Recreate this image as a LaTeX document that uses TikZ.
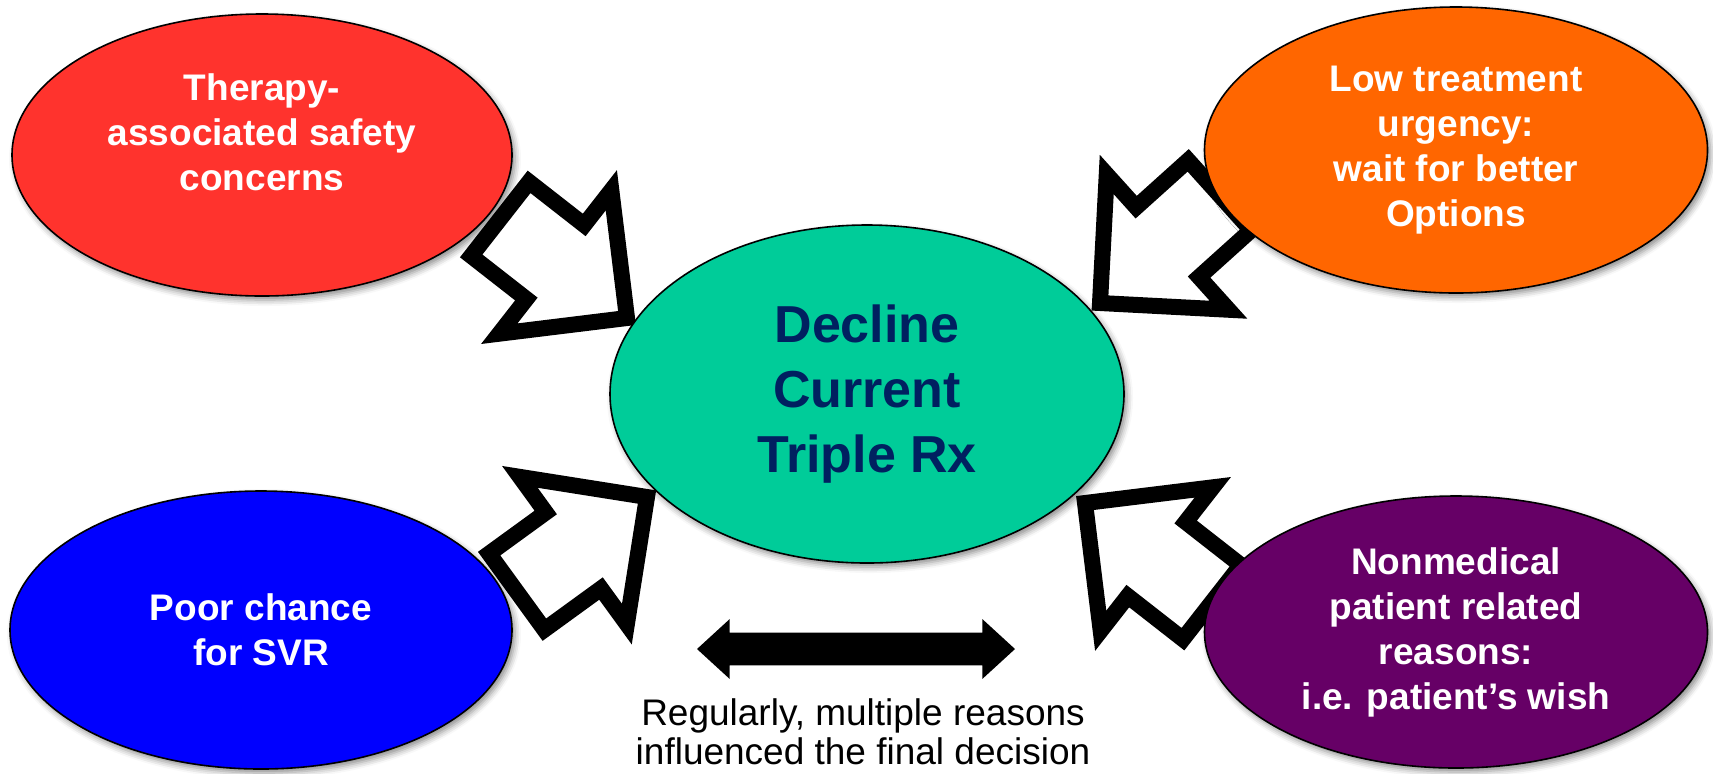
\documentclass[tikz,border=0pt]{standalone}
\usepackage{fontspec}
\setmainfont{Liberation Sans}
\usepackage{tikz}
\usetikzlibrary{shapes.geometric, shapes.arrows, shadows.blur}

\definecolor{safetyred}{RGB}{255,51,45}
\definecolor{urgencyorange}{RGB}{255,102,0}
\definecolor{declineteal}{RGB}{0,204,153}
\definecolor{svrblue}{RGB}{0,0,255}
\definecolor{wishpurple}{RGB}{102,0,102}
\definecolor{declinenavy}{RGB}{0,32,96}

\begin{document}
\begin{tikzpicture}[
    x=0.5pt, y=-0.5pt,
    bubble/.style={ellipse, draw=black, line width=0.8pt, inner sep=0pt,
                   align=center, text=white,
                   font=\bfseries\fontsize{18.5}{22.5}\selectfont,
                   blur shadow={shadow xshift=1.5pt, shadow yshift=-2pt,
                                shadow blur radius=3pt, shadow opacity=45}},
    pusharrow/.style={single arrow, draw=black, fill=white, line width=8pt,
                      inner xsep=0pt, inner ysep=19.5pt, outer sep=0pt,
                      single arrow head extend=22pt,
                      single arrow tip angle=90,
                      minimum height=80.5pt, anchor=tip},
    botharrow/.style={double arrow, fill=black, draw=none,
                      inner xsep=0pt, inner ysep=8pt, outer sep=0pt,
                      double arrow head extend=6.75pt,
                      double arrow tip angle=85,
                      minimum height=159pt}
  ]
  \useasboundingbox (0,0) rectangle (1713,773);

  % block arrows go under the ellipses
  \node[pusharrow, rotate=-38]  (safetyarrow)  at (627,318) {};
  \node[pusharrow, rotate=-138] (urgencyarrow) at (1100,303) {};
  \node[pusharrow, rotate=36]   (svrarrow)     at (647,497) {};
  \node[pusharrow, rotate=142]  (wisharrow)    at (1085,503) {};

  \node[bubble, fill=safetyred, minimum width=250pt, minimum height=141pt]
    (safety) at (262,155) {Therapy-\\associated safety\\concerns\\\mbox{}};
  \node[bubble, fill=urgencyorange, minimum width=251.5pt, minimum height=143pt]
    (urgency) at (1456,150) {Low treatment\\urgency:\\wait for better\\Options};
  \node[bubble, fill=declineteal, minimum width=257pt, minimum height=169pt,
        text=declinenavy, font=\bfseries\fontsize{26}{32.5}\selectfont]
    (decline) at (867,394) {Decline\\Current\\Triple Rx};
  \node[bubble, fill=svrblue, minimum width=251pt, minimum height=139pt]
    (svr) at (261,630) {Poor chance\\for SVR};
  \node[bubble, fill=wishpurple, minimum width=251.5pt, minimum height=136pt]
    (wish) at (1456,632) {Nonmedical\\patient related\\reasons:\\i.e. patient’s wish};

  \node[botharrow] (both) at (856,649) {};
  \node[align=center, font=\fontsize{18.5}{19.5}\selectfont]
    (note) at (863,732) {Regularly, multiple reasons\\influenced the final decision};
\end{tikzpicture}
\end{document}
